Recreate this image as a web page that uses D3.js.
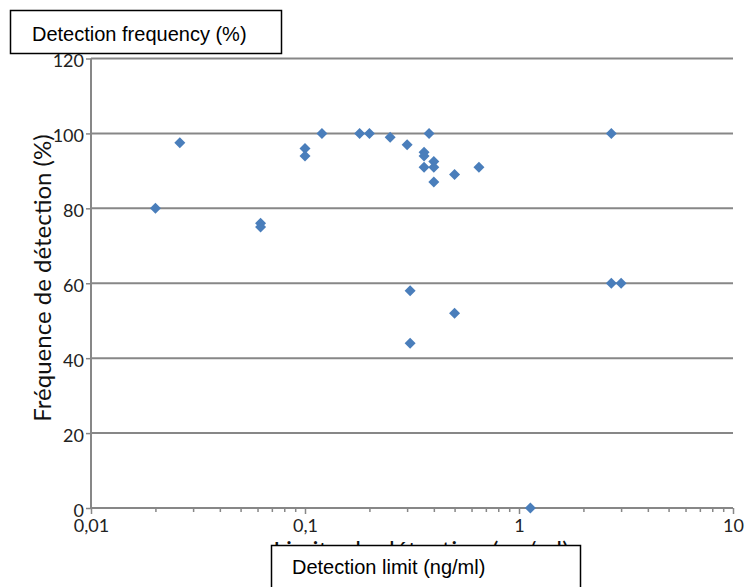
<!DOCTYPE html>
<html><head><meta charset="utf-8">
<script src="https://cdn.jsdelivr.net/npm/d3@7"></script>
<style>body{margin:0;background:#fff}svg{display:block}</style>
</head><body>
<svg id="c" width="751" height="587"></svg>
<script>
const limits = [0.02,0.026,0.062,0.062,0.1,0.1,0.12,0.18,0.2,0.25,0.3,0.36,0.36,0.38,0.4,0.36,0.4,0.4,0.5,0.65,2.7,2.7,3.0,0.31,0.5,0.31,1.13];
const freqs  = [80,97.5,76,75,96,94,100,100,100,99,97,95,94,100,92.5,91,91,87,89,91,100,60,60,58,52,44,0];
const xTicks = [0.01,0.1,1,10];
const xTickLabels = ["0,01","0,1","1","10"];
const yTicks = [0,20,40,60,80,100,120];

const svg = d3.select("#c");
const L = 91, R = 733, T = 58.5, B = 508;
const x = d3.scaleLog().domain([0.01,10]).range([L,R]);
const y = d3.scaleLinear().domain([0,120]).range([B,T]);
const grey = "#878787";
const font = "Lato, 'Open Sans', sans-serif";

// gridlines
svg.append("g").selectAll("line").data(yTicks.filter(d=>d>0)).join("line")
  .attr("x1",L).attr("x2",R).attr("y1",d=>y(d)).attr("y2",d=>y(d))
  .attr("stroke",grey).attr("stroke-width",2);

// y axis
const yAxis = svg.append("g").attr("transform",`translate(${L},0)`)
  .call(d3.axisLeft(y).tickValues(yTicks).tickSize(5).tickPadding(2).tickFormat(d3.format("d")));
yAxis.select(".domain").attr("stroke",grey).attr("stroke-width",2).attr("d",`M0,${B}V${T}`);
yAxis.selectAll(".tick line").attr("stroke",grey).attr("stroke-width",1.5);
yAxis.selectAll("text").attr("font-family",font).attr("font-size",18).attr("fill","#222").attr("dy","0.45em");

// x axis
const minor = [];
for (let e=-2;e<1;e++) for (let k=2;k<=9;k++) minor.push(k*Math.pow(10,e));
const xAxisMinor = svg.append("g").attr("transform",`translate(0,${B})`)
  .call(d3.axisBottom(x).tickValues(minor).tickSize(4).tickFormat(""));
xAxisMinor.select(".domain").remove();
xAxisMinor.selectAll(".tick line").attr("stroke",grey).attr("stroke-width",1.5);
const xAxis = svg.append("g").attr("transform",`translate(0,${B})`)
  .call(d3.axisBottom(x).tickValues(xTicks).tickSize(6).tickPadding(5).tickFormat((d,i)=>xTickLabels[i]));
xAxis.select(".domain").attr("stroke",grey).attr("stroke-width",2).attr("d",`M${L},0H${R}`);
xAxis.selectAll(".tick line").attr("stroke",grey).attr("stroke-width",1.5);
xAxis.selectAll("text").attr("font-family",font).attr("font-size",18).attr("fill","#222");

// y title
svg.append("text").attr("transform","translate(51,278) rotate(-90)")
  .attr("text-anchor","middle").attr("font-family",font)
  .attr("font-size",24).attr("fill","#111").text("Fréquence de détection (%)");

// x title (mostly hidden by the box, as in the reference)
svg.append("text").attr("x",421).attr("y",560).attr("text-anchor","middle")
  .attr("font-family",font).attr("font-size",25).attr("fill","#111")
  .text("Limite de détection (ng/ml)");

// points (square diamonds)
const h = 5.5;
svg.append("g").selectAll("path").data(limits.map((v,i)=>[v,freqs[i]])).join("path")
  .attr("d",`M0,${-h}L${h},0L0,${h}L${-h},0Z`)
  .attr("transform",d=>`translate(${x(d[0])},${y(d[1])})`)
  .attr("fill","#4a7ebb");

// boxes
function box(x0,y0,w,ht,txt,tx,ty){
  svg.append("rect").attr("x",x0).attr("y",y0).attr("width",w).attr("height",ht)
    .attr("fill","#fff").attr("stroke","#000").attr("stroke-width",1.5);
  svg.append("text").attr("x",tx).attr("y",ty).attr("font-family","'Liberation Sans', Arial, sans-serif")
    .attr("font-size",20).attr("fill","#000").text(txt);
}
box(10.5,10.5,271,43,"Detection frequency (%)",32,41);
box(271.5,545.5,309,50,"Detection limit (ng/ml)",292,574);
</script>
</body></html>
